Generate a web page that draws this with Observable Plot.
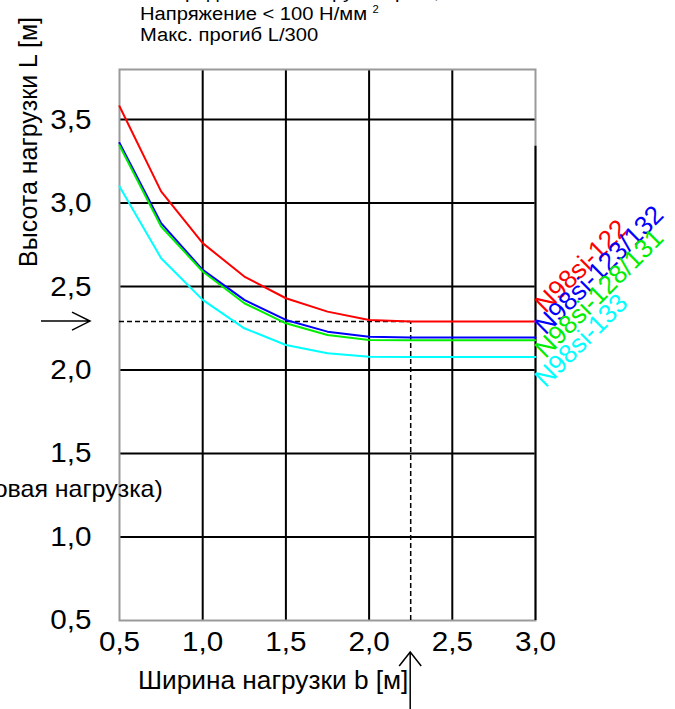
<!DOCTYPE html>
<html><head><meta charset="utf-8">
<script src="https://cdn.jsdelivr.net/npm/d3@7"></script>
<script src="https://cdn.jsdelivr.net/npm/@observablehq/plot@0.6"></script>
<style>
body{margin:0;background:#fff;overflow:hidden}
#wrap{position:relative;width:675px;height:709px;font-family:"Liberation Sans",Arial,sans-serif;color:#000;overflow:hidden}
.note{position:absolute;left:140px;top:-18px;font-size:18px;line-height:21.6px;white-space:nowrap;transform:scaleX(1.12);transform-origin:0 0}
.note sup{font-size:10px;vertical-align:7px;line-height:0}
.side{position:absolute;right:512px;top:474px;font-size:24px;line-height:30px;white-space:nowrap;transform:scaleX(1.04);transform-origin:100% 0}
</style></head><body><div id="wrap"></div>
<script>
// ---- data ----
const widths = [0.5, 0.75, 1.0, 1.25, 1.5, 1.75, 2.0, 2.25, 2.5, 2.75, 3.0];
const seriesNames = ["N98si-122", "N98si-123/132", "N98si-128/131", "N98si-133"];
const seriesColors = ["#ff0000", "#0000ff", "#00ee00", "#00ffff"];
const heights122 = [3.58, 3.07, 2.76, 2.56, 2.43, 2.35, 2.30, 2.29, 2.29, 2.29, 2.29];
const heights123 = [3.36, 2.88, 2.60, 2.42, 2.30, 2.23, 2.20, 2.195, 2.195, 2.195, 2.195];
const heights128 = [3.345, 2.86, 2.59, 2.40, 2.28, 2.21, 2.18, 2.178, 2.178, 2.178, 2.178];
const heights133 = [3.10, 2.67, 2.42, 2.25, 2.15, 2.10, 2.08, 2.078, 2.078, 2.078, 2.078];
const labelHeights = [2.335, 2.205, 2.065, 1.89];
const xTicks = [0.5, 1.0, 1.5, 2.0, 2.5, 3.0];
const yTicks = [0.5, 1.0, 1.5, 2.0, 2.5, 3.0, 3.5];
const gridX = [1.0, 1.5, 2.0, 2.5];
const gridY = [1.0, 1.5, 2.0, 2.5, 3.0, 3.5];
const chosenWidth = 2.25;
const chosenHeight = 2.29;
const rightEdgeTop = 3.34;
const xTitle = "Ширина нагрузки b [м]";
const yTitle = "Высота нагрузки L [м]";
const notes = ["Распределённая нагрузка q = 1,5 кН/м", "Напряжение < 100 Н/мм", "Макс. прогиб L/300"];
const sideNote = "(Снеговая нагрузка)";

// ---- build table ----
const allSeries = [heights122, heights123, heights128, heights133];
const rows = [];
allSeries.forEach((hs, i) => hs.forEach((h, j) => rows.push({name: seriesNames[i], b: widths[j], L: h})));
const labels = seriesNames.map((n, i) => ({name: n, b: widths[widths.length - 1], L: labelHeights[i]}));
const fmt = d => d.toFixed(1).replace(".", ",");

const plot = Plot.plot({
  width: 675, height: 709,
  marginLeft: 119, marginRight: 140, marginTop: 69, marginBottom: 89,
  style: {fontFamily: '"Liberation Sans", Arial, sans-serif', background: "white", color: "black"},
  x: {domain: [0.5, 3.0]},
  y: {domain: [0.5, 3.8]},
  color: {domain: seriesNames, range: seriesColors},
  marks: [
    Plot.ruleX(gridX, {stroke: "black", strokeWidth: 2, strokeOpacity: 1}),
    Plot.ruleY(gridY, {stroke: "black", strokeWidth: 2, strokeOpacity: 1}),
    Plot.frame({stroke: "#9a9a9a", strokeWidth: 2}),
    Plot.ruleX([3.0], {y1: 0.5, y2: rightEdgeTop, stroke: "black", strokeWidth: 2}),
    Plot.ruleY([chosenHeight], {x1: 0.5, x2: chosenWidth, stroke: "black", strokeWidth: 1.5, strokeDasharray: "5,3"}),
    Plot.ruleX([chosenWidth], {y1: 0.5, y2: chosenHeight, stroke: "black", strokeWidth: 1.5, strokeDasharray: "5,3"}),
    Plot.line(rows, {x: "b", y: "L", z: "name", stroke: "name", strokeWidth: 2}),
    Plot.text(labels, {x: "b", y: "L", text: "name", fill: "name", rotate: -45, textAnchor: "start", lineAnchor: "bottom", dx: 10, fontSize: 26, ariaLabel: "series-labels"}),
    Plot.axisX({ticks: xTicks, tickSize: 0, tickPadding: 11, fontSize: 28, tickFormat: fmt, label: null}),
    Plot.axisY({ticks: yTicks, tickSize: 0, tickPadding: 28, fontSize: 28, tickFormat: fmt, label: null})
  ]
});

const wrap = document.getElementById("wrap");
wrap.appendChild(plot);
const svg = d3.select(plot);
const sx = plot.scale("x"), sy = plot.scale("y");
const px = sx.apply(chosenWidth), py = sy.apply(chosenHeight);

// slightly wider tick labels, as in the reference
svg.selectAll('g[aria-label="x-axis tick label"] text, g[aria-label="y-axis tick label"] text').each(function() {
  const x = +this.getAttribute("x") || 0, y = +this.getAttribute("y") || 0;
  const t = this.getAttribute("transform") || "";
  this.setAttribute("transform", `${t} translate(${x},${y}) scale(1.06,1) translate(${-x},${-y})`);
});
// horizontally stretched diagonal labels (sheared look of the reference)
svg.selectAll('g[aria-label="series-labels"] text').each(function() {
  const t = this.getAttribute("transform") || "";
  this.setAttribute("transform", t.replace("rotate(", "scale(1.1,1) rotate("));
});

// arrows
const g = svg.append("g").attr("fill", "none").attr("stroke", "black").attr("stroke-width", 1.5);
g.append("path").attr("d", `M41,${py}H90M72,${py - 9}L90,${py}L72,${py + 9}`);
g.append("path").attr("d", `M${px},712V652M${px - 11},666L${px},652L${px + 11},666`);

// titles
svg.append("text").attr("transform", "translate(37,267) rotate(-90)")
  .attr("text-anchor", "start").attr("font-size", 25).attr("fill", "black").text(yTitle);
svg.append("text").attr("transform", "translate(138,689) scale(1.05,1)")
  .attr("text-anchor", "start").attr("font-size", 25).attr("fill", "black").text(xTitle);

// notes
const note = document.createElement("div");
note.className = "note";
note.innerHTML = `${notes[0]}<sup>2</sup><br>${notes[1]} <sup>2</sup><br>${notes[2]}`;
wrap.appendChild(note);
const side = document.createElement("div");
side.className = "side";
side.textContent = sideNote;
wrap.appendChild(side);
</script></body></html>
